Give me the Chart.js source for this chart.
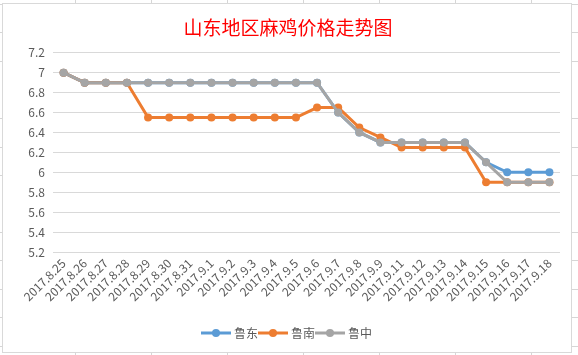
<!DOCTYPE html>
<html>
<head>
<meta charset="utf-8">
<script src="https://cdn.jsdelivr.net/npm/chart.js@4"></script>
<style>
html,body{margin:0;padding:0;width:578px;height:355px;overflow:hidden;background:#fff;}
#bg{position:absolute;left:0;top:0;width:578px;height:355px;
 background-image:
  repeating-linear-gradient(to right, transparent 0, transparent 75px, #d6d6d6 75px, #d6d6d6 76px, transparent 76px, transparent 72px),
  repeating-linear-gradient(to bottom, transparent 0, transparent 4px, #d6d6d6 4px, #d6d6d6 5px, transparent 5px, transparent 28.5px);
}
#frame{position:absolute;left:2px;top:3px;width:568px;height:348px;background:#fff;border:1px solid #d9d9d9;}
#wrap{position:absolute;left:0;top:0;width:578px;height:355px;}
</style>
</head>
<body>
<div id="bg"></div>
<div id="frame"></div>
<div id="wrap"><canvas id="c" width="578" height="355"></canvas></div>
<script>
const categories = ["2017.8.25","2017.8.26","2017.8.27","2017.8.28","2017.8.29","2017.8.30","2017.8.31","2017.9.1","2017.9.2","2017.9.3","2017.9.4","2017.9.5","2017.9.6","2017.9.7","2017.9.8","2017.9.9","2017.9.11","2017.9.12","2017.9.13","2017.9.14","2017.9.15","2017.9.16","2017.9.17","2017.9.18"];
const luDong  = [7,6.9,6.9,6.9,6.9,6.9,6.9,6.9,6.9,6.9,6.9,6.9,6.9,6.6,6.4,6.3,6.3,6.3,6.3,6.3,6.1,6.0,6.0,6.0];
const luNan   = [7,6.9,6.9,6.9,6.55,6.55,6.55,6.55,6.55,6.55,6.55,6.55,6.65,6.65,6.45,6.35,6.25,6.25,6.25,6.25,5.9,5.9,5.9,5.9];
const luZhong = [7,6.9,6.9,6.9,6.9,6.9,6.9,6.9,6.9,6.9,6.9,6.9,6.9,6.6,6.4,6.3,6.3,6.3,6.3,6.3,6.1,5.9,5.9,5.9];
const seriesNames = ["鲁东","鲁南","鲁中"];
const colors = ["#5B9BD5","#ED7D31","#A5A5A5"];

function legendIcon(color){
  const cv = document.createElement('canvas');
  cv.width = 30; cv.height = 10;
  const g = cv.getContext('2d');
  g.strokeStyle = color; g.lineWidth = 3;
  g.beginPath(); g.moveTo(0,5); g.lineTo(30,5); g.stroke();
  g.fillStyle = color;
  g.beginPath(); g.arc(15,5,4,0,Math.PI*2); g.fill();
  return cv;
}

const dataArrays = [luDong, luNan, luZhong];
const datasets = dataArrays.map((d,i)=>({
  label: seriesNames[i],
  data: d,
  borderColor: colors[i],
  backgroundColor: colors[i],
  borderWidth: 3,
  pointRadius: 4,
  pointHoverRadius: 4,
  pointBorderWidth: 0,
  pointStyle: 'circle',
  tension: 0,
  order: 3 - i
}));

const FONT = "'Noto Sans CJK SC','Noto Sans',sans-serif";

new Chart(document.getElementById('c'), {
  type: 'line',
  data: { labels: categories, datasets },
  options: {
    responsive: false,
    animation: false,
    layout: { padding: { left: 0, right: 2, top: 0, bottom: 6 } },
    plugins: {
      title: {
        display: true,
        text: '山东地区麻鸡价格走势图',
        color: '#FF0000',
        font: { family: FONT, size: 19, weight: 'normal' },
        padding: { top: 16, bottom: 14 }
      },
      legend: {
        position: 'bottom',
        labels: {
          usePointStyle: true,
          pointStyleWidth: 24,
          boxHeight: 10,
          color: '#595959',
          font: { family: FONT, size: 12 },
          padding: 3,
          sort: (a,b)=>a.datasetIndex - b.datasetIndex,
          generateLabels: (chart) => chart.data.datasets.map((ds,i)=>({
            text: ds.label,
            pointStyle: legendIcon(colors[i]),
            fillStyle: colors[i],
            strokeStyle: colors[i],
            lineWidth: 0,
            hidden: false,
            datasetIndex: i,
            fontColor: '#595959'
          }))
        }
      },
      tooltip: { enabled: false }
    },
    scales: {
      x: {
        offset: true,
        grid: { display: false, drawTicks: false },
        border: { display: false },
        ticks: {
          autoSkip: false, maxRotation: 45, minRotation: 45,
          color: '#595959', font: { family: FONT, size: 12 }, padding: 4
        },
        afterFit: (s) => { s.height = 72; }
      },
      y: {
        min: 5.2, max: 7.2,
        grid: { color: '#D9D9D9', lineWidth: 1, drawTicks: false },
        border: { display: false },
        ticks: {
          stepSize: 0.2,
          color: '#595959', font: { family: FONT, size: 12 }, padding: 8,
          callback: (v) => String(Math.round(v*10)/10)
        },
        afterFit: (s) => { s.width = 53; }
      },
      yPad: {
        position: 'right',
        min: 5.2, max: 7.2,
        grid: { display: false, drawTicks: false },
        border: { display: false },
        ticks: { display: false },
        afterFit: (s) => { s.width = 16; }
      }
    }
  }
});
</script>
</body>
</html>
